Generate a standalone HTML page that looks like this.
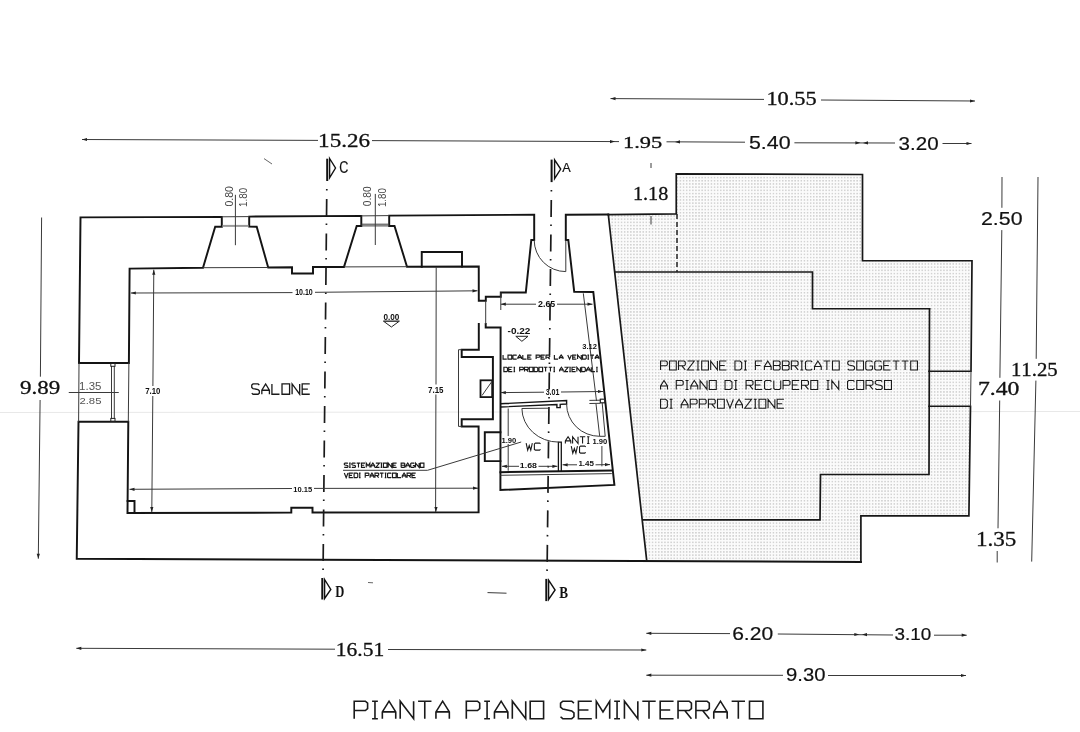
<!DOCTYPE html>
<html><head><meta charset="utf-8"><title>Pianta piano seminterrato</title>
<style>
html,body{margin:0;padding:0;background:#fff;width:1080px;height:732px;overflow:hidden;}
svg{display:block;filter:grayscale(1);}
.sr{stroke:#111;stroke-width:0.3;}
.ss{stroke:#111;stroke-width:0.2;}
.w{stroke:#141414;stroke-width:1.95;fill:none;stroke-linejoin:miter;stroke-linecap:square;}
.w2{stroke:#181818;stroke-width:1.7;fill:none;stroke-linejoin:miter;stroke-linecap:square;}
.wf{stroke:#141414;stroke-width:2.1;stroke-linejoin:miter;}
.t{stroke:#3a3a3a;stroke-width:1;fill:none;}
.tl{stroke:#666;stroke-width:1;fill:none;}
.ax{stroke:#1a1a1a;stroke-width:1.7;fill:none;stroke-dasharray:1.6 8.4 17 7.5;}
.ah{fill:#222;stroke:none;}
.faint{stroke:#e8e8e8;stroke-width:1;fill:none;}
text{font-kerning:none;}
</style></head><body>
<svg width="1080" height="732" viewBox="0 0 1080 732">
<defs>
<pattern id="dots" width="3.1" height="3.2" patternUnits="userSpaceOnUse">
<rect x="0" y="0" width="3.1" height="3.2" fill="#fbfbfb"/>
<rect x="1" y="1" width="1.1" height="1.1" fill="#ababab"/>
</pattern>
</defs>
<rect width="1080" height="732" fill="#fff"/>
<line class="faint" x1="0.00" y1="412.50" x2="1080.00" y2="411.50"/>
<path d="M608.3,214.6 L676.25,213.9 L676.25,173.9 L862.5,174.5 L862.5,260.75 L972,260.75 L971,371.25 L970.5,406.25 L968.9,515.8 L860.9,515.8 L860.9,562 L646.7,560.6 Z" fill="url(#dots)" stroke="none"/>
<path class="w" d="M203,267.7 L129.6,268.6 L128.9,363 L79,363 L80.5,217.4 L221.8,216.9 L221.8,226.7 L215.2,226.7 Z"/>
<path class="w" d="M268.2,267.5 L256.7,226.7 L249.2,226.6 L249.2,216.6 L361.3,215.9 L361.3,225.9 L356.7,225.9 L344,266.9 L313,266.9 L313,273.5 L292,273.5 L292,267.2 Z"/>
<path class="w" d="M407,266.7 L394.5,225.9 L389.2,225.9 L389.2,215.6 L534.2,214.7 L534.2,240 L531.3,240 L525.8,292.5 L500.8,292.5 L500.8,296.7 L485.8,296.7 L485.8,300.8 L478.8,300.8 L478.75,266.6 Z"/>
<path class="w" d="M421.75,266.7 L421.75,252 L462,252 L462,266.6"/>
<path class="w" d="M478.8,324 L478.8,349.7 L461.7,349.7 L461.7,356.9 L492.9,356.9 L492.9,419.2 L461.7,419.2 L461.7,426.4 L478.6,426.4 L478.6,512.2 L312.5,512.4 L312.5,507.7 L291.3,507.7 L291.3,512.6 L127.5,512.9 L128.3,421.7 L78.5,421.7 L76.75,558.75 L860.9,562"/>
<path class="w" d="M127.6,501 L134.5,501 L134.5,512.6"/>
<path class="w2" d="M860.9,562 L860.9,515.8 L968.9,515.8 L970.5,406.25 L929,406.25"/>
<path class="w2" d="M929.5,308.75 L929,474.5 L820.5,474.5 L820,519.8 L643,519.8"/>
<path class="w2" d="M929,371.25 L971,371.25 L972,260.75 L862.5,260.75 L862.5,174.5 L676.25,173.9 L676.25,213.9 L608.3,214.6"/>
<path class="w" d="M608.3,214.6 L565.8,214.7 L565.8,240 L568.3,240 L574.2,291.7 L593.3,292 L614.4,484.9 L500.4,490 L500.6,327.4 L485.7,327.4 L485.7,324"/>
<path class="w2" d="M608.3,214.6 L646.7,560.6"/>
<path class="w2" d="M615,272 L812.5,272 L812.5,308.75 L929.5,308.75"/>
<line class="t" x1="971.00" y1="371.25" x2="970.50" y2="406.25"/>
<line x1="677" y1="214" x2="677" y2="272" stroke="#222" stroke-width="1.5" stroke-dasharray="5 3"/>
<line class="t" x1="221.80" y1="216.80" x2="249.20" y2="216.60"/>
<line x1="222.5" y1="225.9" x2="248.5" y2="225.9" stroke="#999" stroke-width="2"/>
<line class="t" x1="361.30" y1="215.90" x2="389.20" y2="215.60"/>
<line class="t" x1="361.30" y1="224.20" x2="389.20" y2="224.20"/>
<line class="t" x1="361.30" y1="225.90" x2="389.20" y2="225.90"/>
<line class="t" x1="203.00" y1="267.70" x2="268.20" y2="267.50"/>
<line class="t" x1="344.00" y1="266.90" x2="407.00" y2="266.70"/>
<line class="t" x1="235.40" y1="194.80" x2="235.40" y2="245.20"/>
<line class="t" x1="375.30" y1="193.90" x2="375.30" y2="245.00"/>
<line class="t" x1="79.00" y1="363.00" x2="78.60" y2="421.70"/>
<line class="t" x1="128.90" y1="363.00" x2="128.30" y2="421.70"/>
<line class="t" x1="111.50" y1="366.00" x2="111.50" y2="418.50"/>
<line class="t" x1="114.30" y1="366.00" x2="114.30" y2="418.50"/>
<rect x="110.8" y="363.3" width="4.2" height="3" fill="none" stroke="#222" stroke-width="1"/>
<rect x="110.8" y="418.4" width="4.2" height="3" fill="none" stroke="#222" stroke-width="1"/>
<line class="t" x1="68.75" y1="392.50" x2="118.75" y2="392.50"/>
<path class="t" d="M534.2,240 A31.6,31.6 0 0 0 565.8,271.6"/>
<line class="t" x1="565.80" y1="240.00" x2="565.80" y2="271.60"/>
<line class="t" x1="485.70" y1="300.80" x2="485.70" y2="324.00"/>
<line class="t" x1="458.50" y1="349.70" x2="458.50" y2="426.40"/>
<line class="t" x1="458.50" y1="349.70" x2="461.70" y2="349.70"/>
<line class="t" x1="458.50" y1="426.40" x2="461.70" y2="426.40"/>
<rect x="480.5" y="380.3" width="11.7" height="16.8" fill="none" stroke="#141414" stroke-width="1.8"/>
<line class="t" x1="482.00" y1="395.50" x2="491.50" y2="382.00"/>
<path class="w" d="M500.4,432.2 L484.8,432.2 L484.8,461.1 L500.4,461.1"/>
<path d="M500.6,403.7 L566.6,400.6 L566.6,404 L560.2,404.3 L560.2,407.5 L556.9,407.6 L556.9,404.5 L500.6,407" fill="none" stroke="#141414" stroke-width="1.4"/>
<path d="M558.4,472 L558.4,442.1 L561.3,442.1 L561.3,472" fill="none" stroke="#141414" stroke-width="1.3"/>
<line class="w" x1="500.40" y1="472.20" x2="611.50" y2="470.50"/>
<line class="t" x1="500.40" y1="475.30" x2="611.80" y2="473.60"/>
<path class="t" d="M521.9,408.5 A36.7,34 0 0 0 558.6,442.1"/>
<line class="t" x1="521.90" y1="408.50" x2="548.00" y2="408.20"/>
<path class="t" d="M566.6,404 A33,32.3 0 0 0 599.7,436.3"/>
<path class="t" d="M596,403.9 L599.7,436.3 L605.2,436.3 L602.2,403"/>
<line class="t" x1="589.40" y1="400.40" x2="600.30" y2="400.20"/>
<line class="t" x1="589.40" y1="403.50" x2="600.30" y2="403.30"/>
<rect x="600.3" y="399.2" width="4.6" height="3.6" fill="none" stroke="#222" stroke-width="1.2"/>
<line class="t" x1="583.30" y1="293.30" x2="596.50" y2="401.00"/>
<path class="ax" d="M326.8,189 L323,577"/>
<path class="ax" d="M551.4,189.9 L547,578"/>
<line x1="327.20" y1="158.70" x2="327.20" y2="181.00" stroke="#111" stroke-width="2"/>
<path d="M329.60,158.50 L335.50,168.00 L329.60,177.80 Z" fill="none" stroke="#111" stroke-width="1.4"/>
<line x1="551.60" y1="159.60" x2="551.60" y2="182.10" stroke="#111" stroke-width="2"/>
<path d="M554.60,159.80 L560.70,169.10 L554.60,178.70 Z" fill="none" stroke="#111" stroke-width="1.4"/>
<line x1="322.30" y1="578.00" x2="322.30" y2="599.50" stroke="#111" stroke-width="2"/>
<path d="M324.60,579.50 L330.80,589.50 L324.60,598.50 Z" fill="none" stroke="#111" stroke-width="1.4"/>
<line x1="546.30" y1="578.90" x2="546.30" y2="601.10" stroke="#111" stroke-width="2"/>
<path d="M548.60,580.20 L555.10,590.00 L548.60,599.50 Z" fill="none" stroke="#111" stroke-width="1.4"/>
<text x="339.37" y="173.33" font-family='"Liberation Sans", sans-serif' font-weight="normal" font-size="16.96" textLength="9.13" lengthAdjust="spacingAndGlyphs" fill="#111"  class="ss">C</text>
<text x="562.17" y="171.80" font-family='"Liberation Sans", sans-serif' font-weight="normal" font-size="13.67" textLength="8.46" lengthAdjust="spacingAndGlyphs" fill="#111"  class="ss">A</text>
<text x="335.28" y="596.96" font-family='"Liberation Serif", serif' font-weight="bold" font-size="16.35" textLength="9.10" lengthAdjust="spacingAndGlyphs" fill="#111" >D</text>
<text x="559.37" y="597.76" font-family='"Liberation Serif", serif' font-weight="bold" font-size="16.88" textLength="8.79" lengthAdjust="spacingAndGlyphs" fill="#111" >B</text>
<line class="t" x1="610.50" y1="98.60" x2="764.00" y2="99.40"/>
<text x="766.40" y="105.37" font-family='"Liberation Serif", serif' font-weight="normal" font-size="18.53" textLength="50.25" lengthAdjust="spacingAndGlyphs" fill="#111"  class="sr">10.55</text>
<line class="t" x1="821.00" y1="100.00" x2="975.00" y2="101.00"/>
<path class="ah" d="M610.50,98.60 L615.50,97.00 L615.50,100.20 Z"/>
<path class="ah" d="M975.00,101.00 L970.00,102.60 L970.00,99.40 Z"/>
<line class="t" x1="82.00" y1="139.50" x2="318.00" y2="140.40"/>
<text x="318.13" y="147.07" font-family='"Liberation Serif", serif' font-weight="normal" font-size="18.75" textLength="51.91" lengthAdjust="spacingAndGlyphs" fill="#111"  class="sr">15.26</text>
<line class="t" x1="372.00" y1="140.60" x2="619.00" y2="141.60"/>
<path class="ah" d="M82.00,139.50 L87.00,137.90 L87.00,141.10 Z"/>
<path class="ah" d="M615.00,141.60 L610.00,143.20 L610.00,140.00 Z"/>
<text x="622.99" y="147.69" font-family='"Liberation Serif", serif' font-weight="normal" font-size="17.27" textLength="39.26" lengthAdjust="spacingAndGlyphs" fill="#111"  class="sr">1.95</text>
<line class="t" x1="666.50" y1="141.80" x2="745.00" y2="142.20"/>
<path class="ah" d="M675.00,141.90 L680.00,140.30 L680.00,143.50 Z"/>
<text x="748.95" y="149.02" font-family='"Liberation Sans", sans-serif' font-weight="normal" font-size="17.67" textLength="41.59" lengthAdjust="spacingAndGlyphs" fill="#111"  class="ss">5.40</text>
<line class="t" x1="794.40" y1="142.80" x2="895.00" y2="143.00"/>
<path class="ah" d="M860.40,142.80 L855.40,144.40 L855.40,141.20 Z"/>
<path class="ah" d="M863.00,142.90 L868.00,141.30 L868.00,144.50 Z"/>
<text x="898.63" y="149.71" font-family='"Liberation Sans", sans-serif' font-weight="normal" font-size="18.80" textLength="39.97" lengthAdjust="spacingAndGlyphs" fill="#111"  class="ss">3.20</text>
<line class="t" x1="942.50" y1="143.50" x2="971.50" y2="143.50"/>
<path class="ah" d="M971.50,143.50 L966.50,145.10 L966.50,141.90 Z"/>
<line class="t" x1="41.60" y1="217.50" x2="40.40" y2="376.70"/>
<line class="t" x1="40.10" y1="400.00" x2="38.30" y2="558.70"/>
<path class="ah" d="M38.30,558.70 L36.70,553.70 L39.90,553.70 Z"/>
<text x="20.00" y="394.37" font-family='"Liberation Serif", serif' font-weight="normal" font-size="18.82" textLength="40.16" lengthAdjust="spacingAndGlyphs" fill="#111"  class="sr">9.89</text>
<line class="t" x1="1002.00" y1="177.00" x2="1001.90" y2="207.80"/>
<line class="t" x1="1001.80" y1="230.10" x2="999.90" y2="377.80"/>
<line class="t" x1="999.70" y1="400.50" x2="998.00" y2="528.30"/>
<line class="t" x1="997.20" y1="551.00" x2="997.20" y2="562.50"/>
<line class="t" x1="1038.00" y1="177.00" x2="1036.20" y2="358.80"/>
<line class="t" x1="1035.90" y1="380.60" x2="1031.70" y2="561.60"/>
<text x="981.03" y="225.31" font-family='"Liberation Sans", sans-serif' font-weight="normal" font-size="18.94" textLength="41.49" lengthAdjust="spacingAndGlyphs" fill="#111"  class="ss">2.50</text>
<text x="1010.90" y="375.97" font-family='"Liberation Serif", serif' font-weight="normal" font-size="18.75" textLength="46.81" lengthAdjust="spacingAndGlyphs" fill="#111"  class="sr">11.25</text>
<text x="977.91" y="395.37" font-family='"Liberation Serif", serif' font-weight="normal" font-size="18.53" textLength="41.43" lengthAdjust="spacingAndGlyphs" fill="#111"  class="sr">7.40</text>
<text x="975.93" y="546.45" font-family='"Liberation Serif", serif' font-weight="normal" font-size="20.07" textLength="40.34" lengthAdjust="spacingAndGlyphs" fill="#111"  class="sr">1.35</text>
<text x="632.98" y="200.46" font-family='"Liberation Serif", serif' font-weight="normal" font-size="19.41" textLength="35.32" lengthAdjust="spacingAndGlyphs" fill="#111"  class="sr">1.18</text>
<line class="t" x1="651.00" y1="163.00" x2="651.00" y2="168.00"/>
<line class="t" x1="651.00" y1="216.00" x2="651.00" y2="224.50"/>
<line class="t" x1="76.30" y1="648.30" x2="335.00" y2="649.20"/>
<text x="335.77" y="655.81" font-family='"Liberation Serif", serif' font-weight="normal" font-size="19.11" textLength="48.37" lengthAdjust="spacingAndGlyphs" fill="#111"  class="sr">16.51</text>
<line class="t" x1="388.00" y1="649.50" x2="646.30" y2="650.00"/>
<path class="ah" d="M76.30,648.30 L81.30,646.70 L81.30,649.90 Z"/>
<path class="ah" d="M646.30,650.00 L641.30,651.60 L641.30,648.40 Z"/>
<line class="t" x1="646.30" y1="633.30" x2="730.00" y2="633.60"/>
<text x="732.15" y="640.12" font-family='"Liberation Sans", sans-serif' font-weight="normal" font-size="18.09" textLength="40.97" lengthAdjust="spacingAndGlyphs" fill="#111"  class="ss">6.20</text>
<line class="t" x1="777.80" y1="634.00" x2="893.00" y2="635.00"/>
<path class="ah" d="M646.30,633.30 L651.30,631.70 L651.30,634.90 Z"/>
<path class="ah" d="M859.30,634.50 L854.30,636.10 L854.30,632.90 Z"/>
<path class="ah" d="M862.00,634.60 L867.00,633.00 L867.00,636.20 Z"/>
<text x="894.59" y="640.23" font-family='"Liberation Sans", sans-serif' font-weight="normal" font-size="17.10" textLength="36.74" lengthAdjust="spacingAndGlyphs" fill="#111"  class="ss">3.10</text>
<line class="t" x1="934.00" y1="635.20" x2="966.70" y2="635.20"/>
<path class="ah" d="M966.70,635.20 L961.70,636.80 L961.70,633.60 Z"/>
<line class="t" x1="646.30" y1="675.20" x2="783.00" y2="675.30"/>
<text x="786.14" y="681.42" font-family='"Liberation Sans", sans-serif' font-weight="normal" font-size="17.81" textLength="39.35" lengthAdjust="spacingAndGlyphs" fill="#111"  class="ss">9.30</text>
<line class="t" x1="828.00" y1="675.50" x2="966.00" y2="675.50"/>
<path class="ah" d="M646.30,675.20 L651.30,673.60 L651.30,676.80 Z"/>
<path class="ah" d="M966.00,675.50 L961.00,677.10 L961.00,673.90 Z"/>
<line class="t" x1="130.80" y1="293.00" x2="292.50" y2="292.60"/>
<line class="t" x1="315.00" y1="292.30" x2="477.50" y2="290.80"/>
<path class="ah" d="M130.80,293.00 L135.80,291.40 L135.80,294.60 Z"/>
<path class="ah" d="M477.50,290.80 L472.50,292.40 L472.50,289.20 Z"/>
<text x="295.16" y="294.72" font-family='"Liberation Sans", sans-serif' font-weight="bold" font-size="8.20" textLength="17.62" lengthAdjust="spacingAndGlyphs" fill="#111" >10.10</text>
<line class="t" x1="129.50" y1="489.30" x2="292.00" y2="488.50"/>
<line class="t" x1="314.00" y1="488.40" x2="478.00" y2="488.20"/>
<path class="ah" d="M129.50,489.30 L134.50,487.70 L134.50,490.90 Z"/>
<path class="ah" d="M478.00,488.20 L473.00,489.80 L473.00,486.60 Z"/>
<text x="293.28" y="491.67" font-family='"Liberation Sans", sans-serif' font-weight="bold" font-size="7.77" textLength="18.93" lengthAdjust="spacingAndGlyphs" fill="#111" >10.15</text>
<line class="t" x1="153.80" y1="269.70" x2="152.90" y2="386.00"/>
<line class="t" x1="152.80" y1="396.00" x2="151.80" y2="512.00"/>
<path class="ah" d="M153.80,269.70 L155.40,274.70 L152.20,274.70 Z"/>
<path class="ah" d="M151.80,512.00 L150.20,507.00 L153.40,507.00 Z"/>
<text x="145.17" y="394.41" font-family='"Liberation Sans", sans-serif' font-weight="bold" font-size="9.19" textLength="15.15" lengthAdjust="spacingAndGlyphs" fill="#111" >7.10</text>
<line class="t" x1="436.20" y1="267.00" x2="436.00" y2="384.50"/>
<line class="t" x1="435.90" y1="394.50" x2="435.60" y2="512.00"/>
<path class="ah" d="M436.00,512.00 L434.40,507.00 L437.60,507.00 Z"/>
<text x="428.06" y="392.80" font-family='"Liberation Sans", sans-serif' font-weight="bold" font-size="9.61" textLength="15.47" lengthAdjust="spacingAndGlyphs" fill="#111" >7.15</text>
<line class="t" x1="500.80" y1="304.20" x2="536.00" y2="304.20"/>
<line class="t" x1="557.00" y1="304.20" x2="592.50" y2="304.20"/>
<path class="ah" d="M500.80,304.20 L505.80,302.60 L505.80,305.80 Z"/>
<path class="ah" d="M592.50,304.20 L587.50,305.80 L587.50,302.60 Z"/>
<text x="537.99" y="307.41" font-family='"Liberation Sans", sans-serif' font-weight="bold" font-size="9.47" textLength="17.27" lengthAdjust="spacingAndGlyphs" fill="#111" >2.65</text>
<line class="t" x1="500.80" y1="292.50" x2="500.80" y2="310.00"/>
<text x="582.33" y="349.11" font-family='"Liberation Sans", sans-serif' font-weight="bold" font-size="7.32" textLength="14.68" lengthAdjust="spacingAndGlyphs" fill="#111" >3.12</text>
<line class="t" x1="500.80" y1="392.60" x2="544.00" y2="392.20"/>
<line class="t" x1="561.00" y1="392.00" x2="603.00" y2="391.50"/>
<path class="ah" d="M500.80,392.60 L505.80,391.00 L505.80,394.20 Z"/>
<path class="ah" d="M603.00,391.50 L598.00,393.10 L598.00,389.90 Z"/>
<text x="545.64" y="394.90" font-family='"Liberation Sans", sans-serif' font-weight="bold" font-size="8.17" textLength="13.76" lengthAdjust="spacingAndGlyphs" fill="#111" >3.01</text>
<line class="t" x1="508.20" y1="408.50" x2="508.20" y2="436.00"/>
<line class="t" x1="508.20" y1="444.00" x2="508.20" y2="470.70"/>
<text x="501.42" y="442.53" font-family='"Liberation Sans", sans-serif' font-weight="bold" font-size="7.35" textLength="14.89" lengthAdjust="spacingAndGlyphs" fill="#111" >1.90</text>
<line class="t" x1="501.90" y1="466.30" x2="519.00" y2="466.30"/>
<line class="t" x1="538.50" y1="466.30" x2="557.40" y2="466.30"/>
<path class="ah" d="M501.90,466.30 L506.90,464.70 L506.90,467.90 Z"/>
<path class="ah" d="M557.40,466.30 L552.40,467.90 L552.40,464.70 Z"/>
<text x="519.85" y="468.43" font-family='"Liberation Sans", sans-serif' font-weight="bold" font-size="7.35" textLength="17.13" lengthAdjust="spacingAndGlyphs" fill="#111" >1.68</text>
<line class="t" x1="562.60" y1="464.80" x2="577.00" y2="464.80"/>
<line class="t" x1="595.50" y1="464.80" x2="610.00" y2="464.60"/>
<path class="ah" d="M562.60,464.80 L567.60,463.20 L567.60,466.40 Z"/>
<path class="ah" d="M610.00,464.60 L605.00,466.20 L605.00,463.00 Z"/>
<text x="578.40" y="465.82" font-family='"Liberation Sans", sans-serif' font-weight="bold" font-size="7.89" textLength="15.53" lengthAdjust="spacingAndGlyphs" fill="#111" >1.45</text>
<line class="t" x1="601.90" y1="446.00" x2="601.90" y2="466.30"/>
<text x="592.53" y="444.42" font-family='"Liberation Sans", sans-serif' font-weight="bold" font-size="7.92" textLength="14.79" lengthAdjust="spacingAndGlyphs" fill="#111" >1.90</text>
<text x="79.14" y="390.39" font-family='"Liberation Sans", sans-serif' font-weight="normal" font-size="10.60" textLength="22.34" lengthAdjust="spacingAndGlyphs" fill="#555" >1.35</text>
<text x="79.43" y="403.90" font-family='"Liberation Sans", sans-serif' font-weight="normal" font-size="9.89" textLength="22.03" lengthAdjust="spacingAndGlyphs" fill="#555" >2.85</text>
<text transform="translate(233.20 206.62) rotate(-90)" x="0" y="0" font-family='"Liberation Sans", sans-serif' font-weight="normal" font-size="10.46" textLength="20.43" lengthAdjust="spacingAndGlyphs" fill="#444" >0.80</text>
<text transform="translate(247.08 206.94) rotate(-90)" x="0" y="0" font-family='"Liberation Sans", sans-serif' font-weight="normal" font-size="11.59" textLength="19.12" lengthAdjust="spacingAndGlyphs" fill="#444" >1.80</text>
<text transform="translate(371.39 206.21) rotate(-90)" x="0" y="0" font-family='"Liberation Sans", sans-serif' font-weight="normal" font-size="10.74" textLength="19.91" lengthAdjust="spacingAndGlyphs" fill="#444" >0.80</text>
<text transform="translate(385.78 207.02) rotate(-90)" x="0" y="0" font-family='"Liberation Sans", sans-serif' font-weight="normal" font-size="11.59" textLength="18.80" lengthAdjust="spacingAndGlyphs" fill="#444" >1.80</text>
<text x="383.42" y="319.92" font-family='"Liberation Sans", sans-serif' font-weight="bold" font-size="8.48" textLength="15.92" lengthAdjust="spacingAndGlyphs" fill="#111" >0.00</text>
<path d="M383.5,321.2 L399.3,321.2 L391.4,327 Z" fill="none" stroke="#222" stroke-width="1"/>
<line class="t" x1="383.50" y1="321.20" x2="399.30" y2="321.20"/>
<text x="507.60" y="334.12" font-family='"Liberation Sans", sans-serif' font-weight="bold" font-size="8.34" textLength="22.82" lengthAdjust="spacingAndGlyphs" fill="#111" >-0.22</text>
<path d="M515.8,336.3 L528,336.3 L521.9,341.3 Z" fill="none" stroke="#222" stroke-width="1"/>
<path d="M259.32,385.09 L258.05,383.95 L253.01,383.95 L251.75,385.09 L251.75,387.38 L253.01,388.53 L258.05,389.67 L259.32,390.82 L259.32,393.11 L258.05,394.25 L253.01,394.25 L251.75,393.11 M261.84,394.25 L261.84,390.24 L265.62,383.95 L269.40,390.24 L269.40,394.25 M261.84,390.24 L269.40,390.24 M271.92,383.95 L271.92,394.25 L279.49,394.25 M282.01,394.25 L282.01,383.95 L289.58,383.95 L289.58,394.25 Z M292.10,394.25 L292.10,383.95 L299.66,394.25 L299.66,383.95 M309.75,383.95 L302.18,383.95 L302.18,394.25 L309.75,394.25 M302.18,389.10 L307.86,389.10" fill="none" stroke="#1a1a1a" stroke-width="1.30" stroke-linejoin="miter" stroke-linecap="butt"/>
<path d="M503.07,355.07 L503.07,359.12 L506.78,359.12 M508.01,359.12 L508.01,355.07 L511.71,355.07 L511.71,359.12 Z M516.64,355.52 L516.03,355.07 L513.56,355.07 L512.94,355.52 L512.94,358.68 L513.56,359.12 L516.03,359.12 L516.64,358.68 M517.88,359.12 L517.88,357.55 L519.73,355.07 L521.58,357.55 L521.58,359.12 M517.88,357.55 L521.58,357.55 M522.81,355.07 L522.81,359.12 L526.51,359.12 M531.45,355.07 L527.75,355.07 L527.75,359.12 L531.45,359.12 M527.75,357.10 L530.52,357.10 M536.14,359.12 L536.14,355.07 L539.22,355.07 L539.84,355.52 L539.84,356.78 L539.22,357.24 L536.14,357.24 M544.77,355.07 L541.07,355.07 L541.07,359.12 L544.77,359.12 M541.07,357.10 L543.85,357.10 M546.00,359.12 L546.00,355.07 L549.09,355.07 L549.70,355.52 L549.70,356.78 L549.09,357.24 L546.00,357.24 M547.85,357.24 L549.70,359.12 M554.39,355.07 L554.39,359.12 L558.09,359.12 M559.33,359.12 L559.33,357.55 L561.18,355.07 L563.03,357.55 L563.03,359.12 M559.33,357.55 L563.03,357.55 M567.72,355.07 L569.57,359.12 L571.42,355.07 M576.35,355.07 L572.65,355.07 L572.65,359.12 L576.35,359.12 M572.65,357.10 L575.43,357.10 M577.58,359.12 L577.58,355.07 L581.28,359.12 L581.28,355.07 M582.52,359.12 L582.52,355.07 L585.29,355.07 L586.22,355.75 L586.22,358.45 L585.29,359.12 Z M587.45,355.07 L589.06,355.07 M588.25,355.07 L588.25,359.12 M587.45,359.12 L589.06,359.12 M590.29,355.07 L593.99,355.07 M592.14,355.07 L592.14,359.12 M595.22,359.12 L595.22,357.55 L597.07,355.07 L598.93,357.55 L598.93,359.12 M595.22,357.55 L598.93,357.55" fill="none" stroke="#1a1a1a" stroke-width="1.15" stroke-linejoin="miter" stroke-linecap="butt"/>
<path d="M503.88,371.62 L503.88,367.27 L506.59,367.27 L507.49,368.00 L507.49,370.90 L506.59,371.62 Z M512.32,367.27 L508.70,367.27 L508.70,371.62 L512.32,371.62 M508.70,369.45 L511.41,369.45 M513.53,367.27 L515.09,367.27 M514.31,367.27 L514.31,371.62 M513.53,371.62 L515.09,371.62 M519.68,371.62 L519.68,367.27 L522.69,367.27 L523.30,367.76 L523.30,369.11 L522.69,369.59 L519.68,369.59 M524.50,371.62 L524.50,367.27 L527.52,367.27 L528.12,367.76 L528.12,369.11 L527.52,369.59 L524.50,369.59 M526.31,369.59 L528.12,371.62 M529.33,371.62 L529.33,367.27 L532.95,367.27 L532.95,371.62 Z M534.15,371.62 L534.15,367.27 L536.87,367.27 L537.77,368.00 L537.77,370.90 L536.87,371.62 Z M538.98,371.62 L538.98,367.27 L542.60,367.27 L542.60,371.62 Z M543.80,367.27 L547.42,367.27 M545.61,367.27 L545.61,371.62 M548.63,367.27 L552.25,367.27 M550.44,367.27 L550.44,371.62 M553.45,367.27 L555.02,367.27 M554.24,367.27 L554.24,371.62 M553.45,371.62 L555.02,371.62 M559.61,371.62 L559.61,369.93 L561.42,367.27 L563.22,369.93 L563.22,371.62 M559.61,369.93 L563.22,369.93 M564.43,367.27 L568.05,367.27 L564.43,371.62 L568.05,371.62 M569.26,367.27 L570.82,367.27 M570.04,367.27 L570.04,371.62 M569.26,371.62 L570.82,371.62 M575.65,367.27 L572.03,367.27 L572.03,371.62 L575.65,371.62 M572.03,369.45 L574.75,369.45 M576.86,371.62 L576.86,367.27 L580.47,371.62 L580.47,367.27 M581.68,371.62 L581.68,367.27 L584.40,367.27 L585.30,368.00 L585.30,370.90 L584.40,371.62 Z M586.51,371.62 L586.51,369.93 L588.32,367.27 L590.13,369.93 L590.13,371.62 M586.51,369.93 L590.13,369.93 M591.33,367.27 L591.33,371.62 L594.95,371.62 M596.16,367.27 L597.72,367.27 M596.94,367.27 L596.94,371.62 M596.16,371.62 L597.72,371.62" fill="none" stroke="#1a1a1a" stroke-width="1.15" stroke-linejoin="miter" stroke-linecap="butt"/>
<path d="M526.15,443.15 L527.69,450.15 L529.24,445.48 L530.78,450.15 L532.32,443.15 M540.55,443.93 L539.52,443.15 L535.41,443.15 L534.38,443.93 L534.38,449.37 L535.41,450.15 L539.52,450.15 L540.55,449.37" fill="none" stroke="#1a1a1a" stroke-width="1.10" stroke-linejoin="miter" stroke-linecap="butt"/>
<path d="M565.35,443.55 L565.35,440.91 L568.07,436.75 L570.79,440.91 L570.79,443.55 M565.35,440.91 L570.79,440.91 M572.60,443.55 L572.60,436.75 L578.03,443.55 L578.03,436.75 M579.85,436.75 L585.28,436.75 M582.56,436.75 L582.56,443.55 M587.09,436.75 L589.45,436.75 M588.27,436.75 L588.27,443.55 M587.09,443.55 L589.45,443.55" fill="none" stroke="#1a1a1a" stroke-width="1.10" stroke-linejoin="miter" stroke-linecap="butt"/>
<path d="M571.25,446.15 L572.80,453.15 L574.36,448.48 L575.91,453.15 L577.46,446.15 M585.75,446.93 L584.71,446.15 L580.57,446.15 L579.54,446.93 L579.54,452.37 L580.57,453.15 L584.71,453.15 L585.75,452.37" fill="none" stroke="#1a1a1a" stroke-width="1.10" stroke-linejoin="miter" stroke-linecap="butt"/>
<path d="M347.92,463.56 L347.32,463.07 L344.92,463.07 L344.32,463.56 L344.32,464.52 L344.92,465.01 L347.32,465.49 L347.92,465.98 L347.92,466.94 L347.32,467.43 L344.92,467.43 L344.32,466.94 M349.12,463.07 L350.68,463.07 M349.90,463.07 L349.90,467.43 M349.12,467.43 L350.68,467.43 M355.47,463.56 L354.87,463.07 L352.48,463.07 L351.88,463.56 L351.88,464.52 L352.48,465.01 L354.87,465.49 L355.47,465.98 L355.47,466.94 L354.87,467.43 L352.48,467.43 L351.88,466.94 M356.67,463.07 L360.27,463.07 M358.47,463.07 L358.47,467.43 M365.06,463.07 L361.47,463.07 L361.47,467.43 L365.06,467.43 M361.47,465.25 L364.17,465.25 M366.26,467.43 L366.26,463.07 L368.06,465.73 L369.86,463.07 L369.86,467.43 M371.06,467.43 L371.06,465.73 L372.86,463.07 L374.65,465.73 L374.65,467.43 M371.06,465.73 L374.65,465.73 M375.85,463.07 L379.45,463.07 L375.85,467.43 L379.45,467.43 M380.65,463.07 L382.21,463.07 M381.43,463.07 L381.43,467.43 M380.65,467.43 L382.21,467.43 M383.41,467.43 L383.41,463.07 L387.00,463.07 L387.00,467.43 Z M388.20,467.43 L388.20,463.07 L391.80,467.43 L391.80,463.07 M396.59,463.07 L393.00,463.07 L393.00,467.43 L396.59,467.43 M393.00,465.25 L395.69,465.25 M401.15,467.43 L401.15,463.07 L404.14,463.07 L404.74,463.56 L404.74,464.77 L404.14,465.25 L401.15,465.25 M404.14,465.25 L404.74,465.73 L404.74,466.94 L404.14,467.43 L401.15,467.43 M405.94,467.43 L405.94,465.73 L407.74,463.07 L409.54,465.73 L409.54,467.43 M405.94,465.73 L409.54,465.73 M414.33,463.56 L413.74,463.07 L411.34,463.07 L410.74,463.56 L410.74,466.94 L411.34,467.43 L413.74,467.43 L414.33,466.94 L414.33,465.49 L412.84,465.49 M415.53,467.43 L415.53,463.07 L419.13,467.43 L419.13,463.07 M420.33,467.43 L420.33,463.07 L423.92,463.07 L423.92,467.43 Z" fill="none" stroke="#1a1a1a" stroke-width="1.15" stroke-linejoin="miter" stroke-linecap="butt"/>
<path d="M344.32,473.07 L346.16,477.68 L347.99,473.07 M352.88,473.07 L349.21,473.07 L349.21,477.68 L352.88,477.68 M349.21,475.38 L351.96,475.38 M354.10,477.68 L354.10,473.07 L356.85,473.07 L357.76,473.84 L357.76,476.91 L356.85,477.68 Z M358.99,473.07 L360.57,473.07 M359.78,473.07 L359.78,477.68 M358.99,477.68 L360.57,477.68 M365.22,477.68 L365.22,473.07 L368.27,473.07 L368.88,473.59 L368.88,475.02 L368.27,475.53 L365.22,475.53 M370.10,477.68 L370.10,475.89 L371.94,473.07 L373.77,475.89 L373.77,477.68 M370.10,475.89 L373.77,475.89 M374.99,477.68 L374.99,473.07 L378.05,473.07 L378.66,473.59 L378.66,475.02 L378.05,475.53 L374.99,475.53 M376.82,475.53 L378.66,477.68 M379.88,473.07 L383.54,473.07 M381.71,473.07 L381.71,477.68 M384.76,473.07 L386.35,473.07 M385.56,473.07 L385.56,477.68 M384.76,477.68 L386.35,477.68 M391.24,473.59 L390.63,473.07 L388.19,473.07 L387.57,473.59 L387.57,477.16 L388.19,477.68 L390.63,477.68 L391.24,477.16 M392.46,477.68 L392.46,473.07 L396.13,473.07 L396.13,477.68 Z M397.35,473.07 L397.35,477.68 L401.01,477.68 M402.24,477.68 L402.24,475.89 L404.07,473.07 L405.90,475.89 L405.90,477.68 M402.24,475.89 L405.90,475.89 M407.12,477.68 L407.12,473.07 L410.18,473.07 L410.79,473.59 L410.79,475.02 L410.18,475.53 L407.12,475.53 M408.96,475.53 L410.79,477.68 M415.68,473.07 L412.01,473.07 L412.01,477.68 L415.68,477.68 M412.01,475.38 L414.76,475.38" fill="none" stroke="#1a1a1a" stroke-width="1.15" stroke-linejoin="miter" stroke-linecap="butt"/>
<line class="t" x1="343.00" y1="470.30" x2="427.50" y2="470.30"/>
<line class="t" x1="427.50" y1="470.30" x2="521.20" y2="442.00"/>
<path d="M660.55,369.95 L660.55,361.05 L666.17,361.05 L667.29,362.04 L667.29,364.81 L666.17,365.80 L660.55,365.80 M669.54,369.95 L669.54,361.05 L676.28,361.05 L676.28,369.95 Z M678.53,369.95 L678.53,361.05 L684.15,361.05 L685.27,362.04 L685.27,364.81 L684.15,365.80 L678.53,365.80 M681.90,365.80 L685.27,369.95 M687.52,361.05 L694.26,361.05 L687.52,369.95 L694.26,369.95 M696.51,361.05 L699.43,361.05 M697.97,361.05 L697.97,369.95 M696.51,369.95 L699.43,369.95 M701.68,369.95 L701.68,361.05 L708.42,361.05 L708.42,369.95 Z M710.67,369.95 L710.67,361.05 L717.41,369.95 L717.41,361.05 M726.40,361.05 L719.66,361.05 L719.66,369.95 L726.40,369.95 M719.66,365.50 L724.72,365.50 M734.95,369.95 L734.95,361.05 L740.00,361.05 L741.69,362.53 L741.69,368.47 L740.00,369.95 Z M743.94,361.05 L746.86,361.05 M745.40,361.05 L745.40,369.95 M743.94,369.95 L746.86,369.95 M762.14,361.05 L755.40,361.05 L755.40,369.95 M755.40,365.50 L760.46,365.50 M764.39,369.95 L764.39,366.49 L767.76,361.05 L771.13,366.49 L771.13,369.95 M764.39,366.49 L771.13,366.49 M773.38,369.95 L773.38,361.05 L779.00,361.05 L780.12,362.04 L780.12,364.51 L779.00,365.50 L773.38,365.50 M779.00,365.50 L780.12,366.49 L780.12,368.96 L779.00,369.95 L773.38,369.95 M782.37,369.95 L782.37,361.05 L787.99,361.05 L789.11,362.04 L789.11,364.51 L787.99,365.50 L782.37,365.50 M787.99,365.50 L789.11,366.49 L789.11,368.96 L787.99,369.95 L782.37,369.95 M791.36,369.95 L791.36,361.05 L796.98,361.05 L798.10,362.04 L798.10,364.81 L796.98,365.80 L791.36,365.80 M794.73,365.80 L798.10,369.95 M800.35,361.05 L803.27,361.05 M801.81,361.05 L801.81,369.95 M800.35,369.95 L803.27,369.95 M812.26,362.04 L811.14,361.05 L806.64,361.05 L805.52,362.04 L805.52,368.96 L806.64,369.95 L811.14,369.95 L812.26,368.96 M814.51,369.95 L814.51,366.49 L817.88,361.05 L821.25,366.49 L821.25,369.95 M814.51,366.49 L821.25,366.49 M823.50,361.05 L830.24,361.05 M826.87,361.05 L826.87,369.95 M832.49,369.95 L832.49,361.05 L839.23,361.05 L839.23,369.95 Z M854.52,362.04 L853.39,361.05 L848.90,361.05 L847.77,362.04 L847.77,364.02 L848.90,365.01 L853.39,365.99 L854.52,366.98 L854.52,368.96 L853.39,369.95 L848.90,369.95 L847.77,368.96 M856.76,369.95 L856.76,361.05 L863.51,361.05 L863.51,369.95 Z M872.50,362.04 L871.37,361.05 L866.88,361.05 L865.76,362.04 L865.76,368.96 L866.88,369.95 L871.37,369.95 L872.50,368.96 L872.50,365.99 L869.69,365.99 M881.49,362.04 L880.36,361.05 L875.87,361.05 L874.75,362.04 L874.75,368.96 L875.87,369.95 L880.36,369.95 L881.49,368.96 L881.49,365.99 L878.68,365.99 M890.48,361.05 L883.74,361.05 L883.74,369.95 L890.48,369.95 M883.74,365.50 L888.79,365.50 M892.73,361.05 L899.47,361.05 M896.10,361.05 L896.10,369.95 M901.72,361.05 L908.46,361.05 M905.09,361.05 L905.09,369.95 M910.71,369.95 L910.71,361.05 L917.45,361.05 L917.45,369.95 Z" fill="none" stroke="#1a1a1a" stroke-width="1.10" stroke-linejoin="miter" stroke-linecap="butt"/>
<path d="M660.55,389.45 L660.55,385.99 L664.02,380.55 L667.48,385.99 L667.48,389.45 M660.55,385.99 L667.48,385.99 M676.27,389.45 L676.27,380.55 L682.05,380.55 L683.20,381.54 L683.20,384.31 L682.05,385.30 L676.27,385.30 M685.51,380.55 L688.52,380.55 M687.01,380.55 L687.01,389.45 M685.51,389.45 L688.52,389.45 M690.83,389.45 L690.83,385.99 L694.30,380.55 L697.76,385.99 L697.76,389.45 M690.83,385.99 L697.76,385.99 M700.07,389.45 L700.07,380.55 L707.01,389.45 L707.01,380.55 M709.32,389.45 L709.32,380.55 L716.25,380.55 L716.25,389.45 Z M725.04,389.45 L725.04,380.55 L730.24,380.55 L731.97,382.03 L731.97,387.97 L730.24,389.45 Z M734.28,380.55 L737.29,380.55 M735.78,380.55 L735.78,389.45 M734.28,389.45 L737.29,389.45 M746.07,389.45 L746.07,380.55 L751.85,380.55 L753.00,381.54 L753.00,384.31 L751.85,385.30 L746.07,385.30 M749.54,385.30 L753.00,389.45 M762.25,380.55 L755.31,380.55 L755.31,389.45 L762.25,389.45 M755.31,385.00 L760.51,385.00 M771.49,381.54 L770.34,380.55 L765.71,380.55 L764.56,381.54 L764.56,388.46 L765.71,389.45 L770.34,389.45 L771.49,388.46 M773.80,380.55 L773.80,388.46 L774.96,389.45 L779.58,389.45 L780.74,388.46 L780.74,380.55 M783.05,389.45 L783.05,380.55 L788.83,380.55 L789.98,381.54 L789.98,384.31 L788.83,385.30 L783.05,385.30 M799.23,380.55 L792.29,380.55 L792.29,389.45 L799.23,389.45 M792.29,385.00 L797.50,385.00 M801.54,389.45 L801.54,380.55 L807.32,380.55 L808.47,381.54 L808.47,384.31 L807.32,385.30 L801.54,385.30 M805.01,385.30 L808.47,389.45 M810.79,389.45 L810.79,380.55 L817.72,380.55 L817.72,389.45 Z M826.50,380.55 L829.51,380.55 M828.00,380.55 L828.00,389.45 M826.50,389.45 L829.51,389.45 M831.82,389.45 L831.82,380.55 L838.75,389.45 L838.75,380.55 M854.47,381.54 L853.31,380.55 L848.69,380.55 L847.54,381.54 L847.54,388.46 L848.69,389.45 L853.31,389.45 L854.47,388.46 M856.78,389.45 L856.78,380.55 L863.71,380.55 L863.71,389.45 Z M866.03,389.45 L866.03,380.55 L871.80,380.55 L872.96,381.54 L872.96,384.31 L871.80,385.30 L866.03,385.30 M869.49,385.30 L872.96,389.45 M882.20,381.54 L881.05,380.55 L876.43,380.55 L875.27,381.54 L875.27,383.52 L876.43,384.51 L881.05,385.49 L882.20,386.48 L882.20,388.46 L881.05,389.45 L876.43,389.45 L875.27,388.46 M884.52,389.45 L884.52,380.55 L891.45,380.55 L891.45,389.45 Z" fill="none" stroke="#1a1a1a" stroke-width="1.10" stroke-linejoin="miter" stroke-linecap="butt"/>
<path d="M660.55,408.20 L660.55,399.30 L665.65,399.30 L667.36,400.78 L667.36,406.72 L665.65,408.20 Z M669.62,399.30 L672.57,399.30 M671.10,399.30 L671.10,408.20 M669.62,408.20 L672.57,408.20 M681.19,408.20 L681.19,404.74 L684.59,399.30 L688.00,404.74 L688.00,408.20 M681.19,404.74 L688.00,404.74 M690.27,408.20 L690.27,399.30 L695.94,399.30 L697.07,400.29 L697.07,403.06 L695.94,404.05 L690.27,404.05 M699.34,408.20 L699.34,399.30 L705.01,399.30 L706.14,400.29 L706.14,403.06 L705.01,404.05 L699.34,404.05 M708.41,408.20 L708.41,399.30 L714.08,399.30 L715.22,400.29 L715.22,403.06 L714.08,404.05 L708.41,404.05 M711.82,404.05 L715.22,408.20 M717.49,408.20 L717.49,399.30 L724.29,399.30 L724.29,408.20 Z M726.56,399.30 L729.96,408.20 L733.37,399.30 M735.63,408.20 L735.63,404.74 L739.04,399.30 L742.44,404.74 L742.44,408.20 M735.63,404.74 L742.44,404.74 M744.71,399.30 L751.51,399.30 L744.71,408.20 L751.51,408.20 M753.78,399.30 L756.73,399.30 M755.25,399.30 L755.25,408.20 M753.78,408.20 L756.73,408.20 M759.00,408.20 L759.00,399.30 L765.80,399.30 L765.80,408.20 Z M768.07,408.20 L768.07,399.30 L774.88,408.20 L774.88,399.30 M783.95,399.30 L777.14,399.30 L777.14,408.20 L783.95,408.20 M777.14,403.75 L782.25,403.75" fill="none" stroke="#1a1a1a" stroke-width="1.10" stroke-linejoin="miter" stroke-linecap="butt"/>
<line class="tl" x1="264.00" y1="158.60" x2="272.00" y2="164.00"/>
<line class="tl" x1="368.00" y1="582.50" x2="373.00" y2="582.80"/>
<line class="t" x1="487.50" y1="592.60" x2="506.50" y2="593.20"/>
<path d="M354.20,718.70 L354.20,701.20 L365.37,701.20 L367.60,703.14 L367.60,708.59 L365.37,710.53 L354.20,710.53 M372.07,701.20 L377.87,701.20 M374.97,701.20 L374.97,718.70 M372.07,718.70 L377.87,718.70 M382.34,718.70 L382.34,711.89 L389.04,701.20 L395.74,711.89 L395.74,718.70 M382.34,711.89 L395.74,711.89 M400.21,718.70 L400.21,701.20 L413.61,718.70 L413.61,701.20 M418.07,701.20 L431.47,701.20 M424.77,701.20 L424.77,718.70 M435.94,718.70 L435.94,711.89 L442.64,701.20 L449.34,711.89 L449.34,718.70 M435.94,711.89 L449.34,711.89 M466.31,718.70 L466.31,701.20 L477.48,701.20 L479.71,703.14 L479.71,708.59 L477.48,710.53 L466.31,710.53 M484.18,701.20 L489.99,701.20 M487.08,701.20 L487.08,718.70 M484.18,718.70 L489.99,718.70 M494.45,718.70 L494.45,711.89 L501.15,701.20 L507.85,711.89 L507.85,718.70 M494.45,711.89 L507.85,711.89 M512.32,718.70 L512.32,701.20 L525.72,718.70 L525.72,701.20 M530.19,718.70 L530.19,701.20 L543.59,701.20 L543.59,718.70 Z M573.96,703.14 L571.73,701.20 L562.79,701.20 L560.56,703.14 L560.56,707.03 L562.79,708.98 L571.73,710.92 L573.96,712.87 L573.96,716.76 L571.73,718.70 L562.79,718.70 L560.56,716.76 M591.83,701.20 L578.43,701.20 L578.43,718.70 L591.83,718.70 M578.43,709.95 L588.48,709.95 M596.29,718.70 L596.29,701.20 L602.99,711.89 L609.69,701.20 L609.69,718.70 M614.16,701.20 L619.97,701.20 M617.06,701.20 L617.06,718.70 M614.16,718.70 L619.97,718.70 M624.43,718.70 L624.43,701.20 L637.83,718.70 L637.83,701.20 M642.30,701.20 L655.70,701.20 M649.00,701.20 L649.00,718.70 M673.57,701.20 L660.17,701.20 L660.17,718.70 L673.57,718.70 M660.17,709.95 L670.22,709.95 M678.03,718.70 L678.03,701.20 L689.20,701.20 L691.43,703.14 L691.43,708.59 L689.20,710.53 L678.03,710.53 M684.73,710.53 L691.43,718.70 M695.90,718.70 L695.90,701.20 L707.07,701.20 L709.30,703.14 L709.30,708.59 L707.07,710.53 L695.90,710.53 M702.60,710.53 L709.30,718.70 M713.77,718.70 L713.77,711.89 L720.47,701.20 L727.17,711.89 L727.17,718.70 M713.77,711.89 L727.17,711.89 M731.63,701.20 L745.03,701.20 M738.33,701.20 L738.33,718.70 M749.50,718.70 L749.50,701.20 L762.90,701.20 L762.90,718.70 Z" fill="none" stroke="#1a1a1a" stroke-width="1.60" stroke-linejoin="miter" stroke-linecap="butt"/>
</svg>
</body></html>
